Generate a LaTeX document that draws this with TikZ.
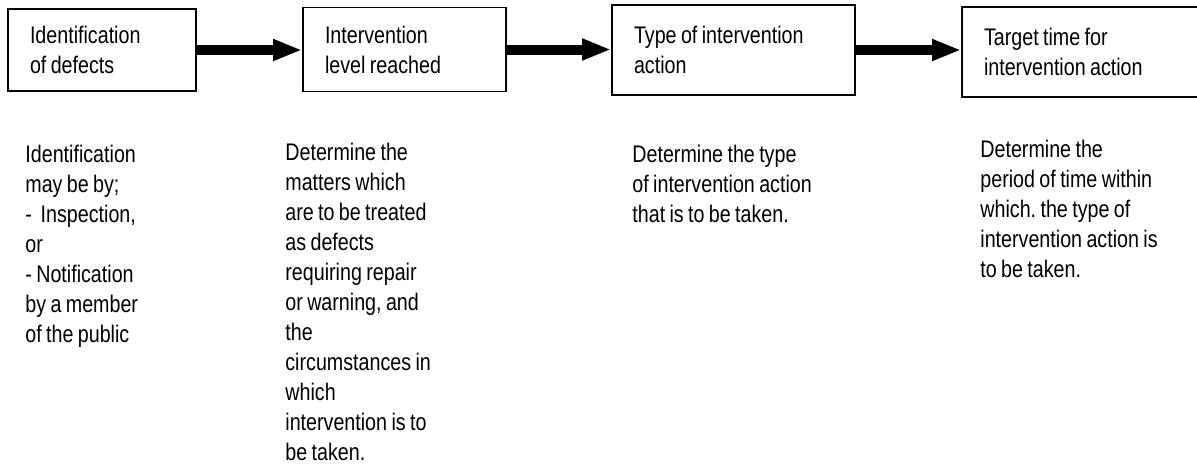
\documentclass[tikz,border=0pt]{standalone}
\usepackage{fontspec}
\setmainfont[FakeStretch=0.82,WordSpace=0.8]{Liberation Sans}
\usetikzlibrary{positioning,arrows.meta}
\frenchspacing

\begin{document}
\begin{tikzpicture}[x=.5pt,y=-.5pt,
  stage/.style={draw,line width=.9pt,align=flush left,inner xsep=11pt,inner ysep=0pt,
    font=\fontsize{12}{15}\selectfont},
  note/.style={anchor=north west,align=left,inner sep=0pt,
    font=\fontsize{12}{15}\selectfont},
  flow/.style={line width=5pt,-{Triangle[length=14.5pt,width=10pt]}}]
\clip (0,0) rectangle (1197,473);
\node[stage,text width=72pt,minimum height=41pt] (ident) at (102,50) {Identification\\of defects};
\node[stage,text width=79.5pt,minimum height=42pt] (level) at (404.5,49.5) {Intervention\\level reached};
\node[stage,text width=99.5pt,minimum height=45pt] (kind) at (733.5,50) {Type of intervention\\action};
\node[stage,text width=99.5pt,minimum height=45pt] (target) at (1083.5,52) {Target time for\\intervention action};
\draw[flow] (ident.east) -- (ident.east -| level.west);
\draw[flow] (level.east) -- (level.east -| kind.west);
\draw[flow] (kind.east) -- (kind.east -| target.west);
\node[note] (identnote) at (25,145) {Identification\\may be by;\\-\ \ Inspection,\\or\\- Notification\\by a member\\of the public};
\node[note] (levelnote) at (285,143) {Determine the\\matters which\\are to be treated\\as defects\\requiring repair\\or warning, and\\the\\circumstances in\\which\\intervention is to\\be taken.};
\node[note] (kindnote) at (632,145) {Determine the type\\of intervention action\\that is to be taken.};
\node[note] (targetnote) at (980,140) {Determine the\\period of time within\\which. the type of\\intervention action is\\to be taken.};
\end{tikzpicture}
\end{document}
